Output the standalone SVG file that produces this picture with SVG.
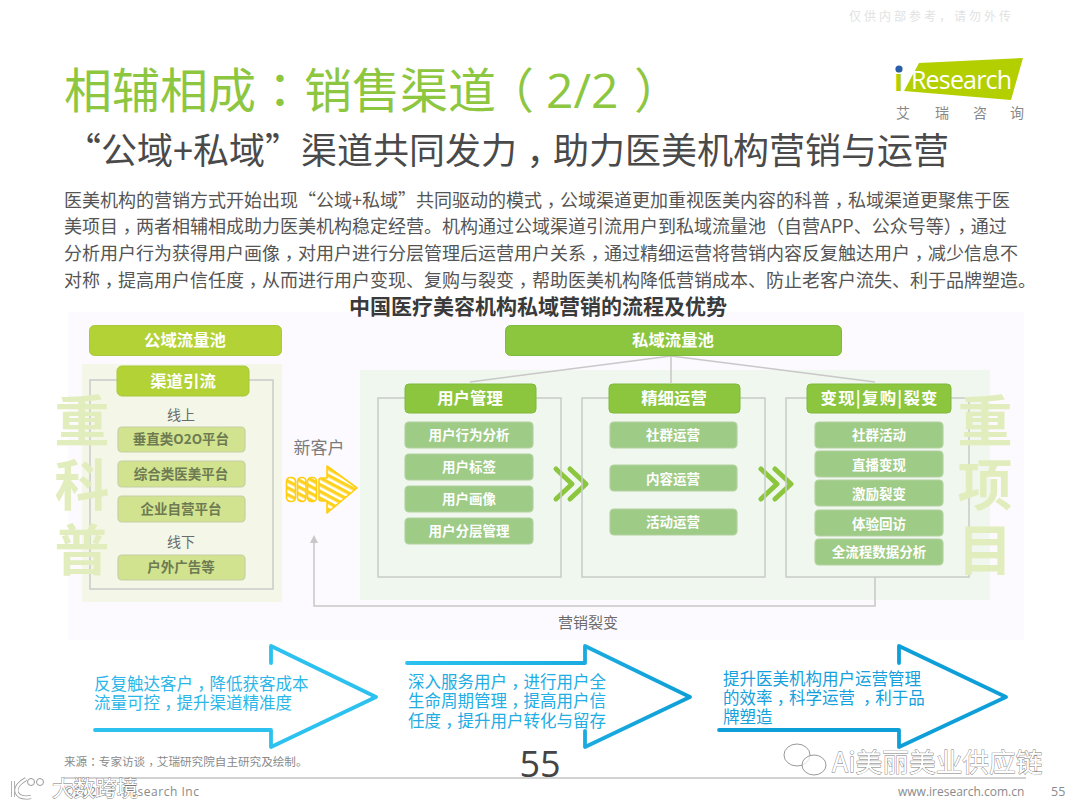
<svg xmlns="http://www.w3.org/2000/svg" width="1080" height="809" viewBox="0 0 1080 809">
<style>
text{font-family:"Noto Sans CJK SC","Noto Sans",sans-serif}
.lat{font-family:"Open Sans","Noto Sans CJK SC",sans-serif}
.c{font-family:"Noto Sans CJK TC",sans-serif;baseline-shift:-.3em}
.c0{font-family:"Noto Sans CJK TC",sans-serif}
.para{font-size:18px;fill:#555}
.hdl{fill:#b2d235;stroke:#a9c83c;stroke-width:1}
.hdr{fill:#8cc63f;stroke:#7fb93d;stroke-width:1}
.hd{fill:#fff;font-weight:700;text-anchor:middle;font-size:16.4px}
.il{fill:#d1e38f;stroke:#c4cfa3;stroke-width:1.2}
.it{fill:#6d7a52;font-weight:700;text-anchor:middle;font-size:13.5px}
.ir{fill:#9ecb86;stroke:#b3d2a1;stroke-width:1.2}
.irt{fill:#fff;font-weight:700;text-anchor:middle;font-size:13.5px}
.box{fill:none;stroke:#c8ccc8;stroke-width:1.5}
.big{fill:#e2edbd;font-size:55px;font-weight:700;text-anchor:middle}
.lb{fill:#6b6b6b;font-size:14px;text-anchor:middle}
.btxt{font-size:16.5px}
.con{fill:none;stroke:#c8c8c8;stroke-width:1.5}
.arr{fill:none;stroke-width:3.8;stroke-linejoin:round;stroke-linecap:round}
.chev{fill:none;stroke:#8cc63f;stroke-width:5;stroke-linejoin:round;stroke-linecap:round}
.wm{fill:#fff;stroke:#777;stroke-width:.8;paint-order:stroke}
</style>
<defs>
<pattern id="st" width="6" height="6" patternUnits="userSpaceOnUse" patternTransform="rotate(28)">
<rect width="6" height="6" fill="#ffd21f"/><rect y="3.4" width="6" height="2.6" fill="#fff"/>
</pattern>
<linearGradient id="g2" gradientUnits="userSpaceOnUse" x1="407" y1="0" x2="690" y2="0"><stop offset="0" stop-color="#2cc1ee"/><stop offset="1" stop-color="#0f9fd8"/></linearGradient>
</defs>
<rect width="1080" height="809" fill="#fff"/>

<g id="header">
<text x="849" y="21" font-size="12" letter-spacing="3" fill="#e2e2e2">仅供内部参考&#xFF0C;请勿外传</text>
<text x="64" y="108" font-size="48" fill="#8dc63f">相辅相成<tspan class="c0">&#xFF1A;</tspan>销售渠道<tspan x="486">&#xFF08;</tspan><tspan class="lat" x="546">2/2</tspan><tspan x="634">&#xFF09;</tspan></text>
<text x="65" y="164" font-size="36" fill="#4a4a4a">“公域+私域”渠道共同发力<tspan class="c">&#xFF0C;</tspan>助力医美机构营销与运营</text>
</g>

<g id="logo">
<polygon points="919,63 1023,58 1011,100 904,91" fill="#b3cf00"/>
<text class="lat" x="894" y="91" font-size="30" font-weight="700" fill="#b3cf00">i</text>
<circle cx="899" cy="69" r="3.6" fill="#2a5ea8"/>
<text class="lat" x="911" y="89" font-size="25" fill="#fff" textLength="101">Research</text>
<g font-size="14" fill="#888" text-anchor="middle">
<text x="903" y="118">艾</text><text x="942" y="118">瑞</text><text x="980" y="118">咨</text><text x="1017" y="118">询</text>
</g>
</g>

<g id="intro">
<text class="para" x="64" y="207">医美机构的营销方式开始出现“公域+私域”共同驱动的模式<tspan class="c">&#xFF0C;</tspan>公域渠道更加重视医美内容的科普<tspan class="c">&#xFF0C;</tspan>私域渠道更聚焦于医</text>
<text class="para" x="64" y="233">美项目<tspan class="c">&#xFF0C;</tspan>两者相辅相成助力医美机构稳定经营。机构通过公域渠道引流用户到私域流量池&#xFF08;自营APP、公众号等&#xFF09;<tspan class="c">&#xFF0C;</tspan>通过</text>
<text class="para" x="64" y="260">分析用户行为获得用户画像<tspan class="c">&#xFF0C;</tspan>对用户进行分层管理后运营用户关系<tspan class="c">&#xFF0C;</tspan>通过精细运营将营销内容反复触达用户<tspan class="c">&#xFF0C;</tspan>减少信息不</text>
<text class="para" x="64" y="287">对称<tspan class="c">&#xFF0C;</tspan>提高用户信任度<tspan class="c">&#xFF0C;</tspan>从而进行用户变现、复购与裂变<tspan class="c">&#xFF0C;</tspan>帮助医美机构降低营销成本、防止老客户流失、利于品牌塑造。</text>
</g>

<rect x="68" y="312" width="956" height="328" fill="#fdfaff"/>
<text x="538" y="314" font-size="21" font-weight="700" fill="#3a3a3a" text-anchor="middle">中国医疗美容机构私域营销的流程及优势</text>

<rect x="82" y="364" width="200" height="238" fill="#f4f7e8"/>
<rect x="360" y="370" width="630" height="230" fill="#f0f7ef"/>

<g id="connectors">
<path class="con" d="M671 356L470 382M671 356V383M671 356L875 382"/>
<path class="con" d="M875 577V606H314V541"/>
<polygon points="314,535 310,543 318,543" fill="#c8c8c8"/>
<path class="chev" d="M556 469L572 484L556 499M570 469L586 484L570 499"/>
<path class="chev" d="M761 469L777 484L761 499M775 469L791 484L775 499"/>
</g>

<g id="box-left"><rect class="box" x="90" y="380" width="183" height="209"/></g>
<g id="box-user"><rect class="box" x="378" y="398" width="183" height="179"/></g>
<g id="box-ops"><rect class="box" x="582" y="398" width="183" height="179"/></g>
<g id="box-conv"><rect class="box" x="786" y="398" width="183" height="179"/></g>

<g id="public-pool"><rect class="hdl" x="89.500" y="325.500" width="192" height="30" rx="5"/><text class="hd" x="185" y="346">公域流量池</text></g>
<g id="channel"><rect class="hdl" x="117" y="366" width="132" height="30" rx="5"/><text class="hd" x="183" y="387">渠道引流</text></g>
<text class="lb" x="181" y="420" font-size="15">线上</text>
<g id="l1"><rect class="il" x="118" y="427" width="127" height="25" rx="4"/><text class="it" x="181" y="444">垂直类O2O平台</text></g>
<g id="l2"><rect class="il" x="118" y="461" width="127" height="26" rx="4"/><text class="it" x="181" y="479">综合类医美平台</text></g>
<g id="l3"><rect class="il" x="118" y="496" width="127" height="26" rx="4"/><text class="it" x="181" y="514">企业自营平台</text></g>
<text class="lb" x="181" y="547">线下</text>
<g id="l4"><rect class="il" x="118" y="555" width="127" height="25" rx="4"/><text class="it" x="181" y="572">户外广告等</text></g>

<g id="zhongkepu"><text class="big" x="82" y="441">重</text><text class="big" x="82" y="505">科</text><text class="big" x="82" y="570">普</text></g>
<g id="zhongxiangmu"><text class="big" x="985" y="441">重</text><text class="big" x="985" y="505">项</text><text class="big" x="985" y="570">目</text></g>

<g id="private-pool"><rect class="hdr" x="505.500" y="325.500" width="336" height="30" rx="5"/><text class="hd" x="673" y="346">私域流量池</text></g>

<g id="user-head"><rect class="hdr" x="405" y="384" width="131" height="29" rx="4"/><text class="hd" x="470" y="404">用户管理</text></g>
<g id="u1"><rect class="ir" x="405" y="422" width="128" height="26" rx="4"/><text class="irt" x="469" y="440">用户行为分析</text></g>
<g id="u2"><rect class="ir" x="405" y="454" width="128" height="26" rx="4"/><text class="irt" x="469" y="472">用户标签</text></g>
<g id="u3"><rect class="ir" x="405" y="486" width="128" height="26" rx="4"/><text class="irt" x="469" y="504">用户画像</text></g>
<g id="u4"><rect class="ir" x="405" y="518" width="128" height="26" rx="4"/><text class="irt" x="469" y="536">用户分层管理</text></g>

<g id="ops-head"><rect class="hdr" x="609" y="384" width="131" height="29" rx="4"/><text class="hd" x="674" y="404">精细运营</text></g>
<g id="o1"><rect class="ir" x="610" y="422" width="127" height="26" rx="4"/><text class="irt" x="673" y="440">社群运营</text></g>
<g id="o2"><rect class="ir" x="610" y="465" width="127" height="26" rx="4"/><text class="irt" x="673" y="484">内容运营</text></g>
<g id="o3"><rect class="ir" x="610" y="509" width="127" height="26" rx="4"/><text class="irt" x="673" y="527">活动运营</text></g>

<g id="conv-head"><rect class="hdr" x="807" y="384" width="144" height="29" rx="4"/><text class="hd" x="879" y="404" textLength="117">变现|复购|裂变</text></g>
<g id="c1"><rect class="ir" x="815" y="422" width="128" height="26" rx="4"/><text class="irt" x="879" y="440">社群活动</text></g>
<g id="c2"><rect class="ir" x="815" y="451" width="128" height="26" rx="4"/><text class="irt" x="879" y="470">直播变现</text></g>
<g id="c3"><rect class="ir" x="815" y="480" width="128" height="26" rx="4"/><text class="irt" x="879" y="499">激励裂变</text></g>
<g id="c4"><rect class="ir" x="815" y="510" width="128" height="26" rx="4"/><text class="irt" x="879" y="529">体验回访</text></g>
<g id="c5"><rect class="ir" x="815" y="539" width="128" height="26" rx="4"/><text class="irt" x="879" y="557">全流程数据分析</text></g>

<text x="319" y="454" font-size="17" fill="#7a7a7a" text-anchor="middle">新客户</text>
<g id="new-arrow" fill="url(#st)" stroke="#ffce10" stroke-width="1.6" stroke-linejoin="round">
<rect x="286.500" y="477.500" width="9" height="24" rx="4"/>
<rect x="297.500" y="477.500" width="8.500" height="24" rx="4"/>
<rect x="307.500" y="477.500" width="9" height="24" rx="4"/>
<path d="M319 480Q319 478 321 478H327V466L357 488L327 513V501H321Q319 501 319 499Z"/>
</g>

<text x="588" y="628" font-size="15" fill="#6b6b6b" text-anchor="middle">营销裂变</text>

<g id="adv1">
<path class="arr" stroke="#2cc1ee" d="M271 663V646L376 697L271 747V730H95"/>
<text class="btxt" fill="#2cb6e8"><tspan x="94" y="690">反复触达客户<tspan class="c">&#xFF0C;</tspan>降低获客成本</tspan><tspan x="94" y="709">流量可控<tspan class="c">&#xFF0C;</tspan>提升渠道精准度</tspan></text>
</g>
<g id="adv2">
<path class="arr" stroke="url(#g2)" d="M407 663H585V646L690 697L585 747V731"/>
<text class="btxt" fill="#22ade3"><tspan x="408" y="688">深入服务用户<tspan class="c">&#xFF0C;</tspan>进行用户全</tspan><tspan x="408" y="707">生命周期管理<tspan class="c">&#xFF0C;</tspan>提高用户信</tspan><tspan x="408" y="727">任度<tspan class="c">&#xFF0C;</tspan>提升用户转化与留存</tspan></text>
</g>
<g id="adv3">
<path class="arr" stroke="#0f9fd8" d="M719 730H899V747L1006 697L899 646V663"/>
<text class="btxt" fill="#159fdc"><tspan x="723" y="685">提升医美机构用户运营管理</tspan><tspan x="723" y="704">的效率<tspan class="c">&#xFF0C;</tspan>科学运营 <tspan class="c">&#xFF0C;</tspan>利于品</tspan><tspan x="723" y="723">牌塑造</tspan></text>
</g>

<g id="footer">
<text x="64" y="766" font-size="11.600" fill="#8a8a8a">来源<tspan class="c0">&#xFF1A;</tspan>专家访谈<tspan class="c">&#xFF0C;</tspan>艾瑞研究院自主研究及绘制。</text>
<line x1="64" y1="778" x2="1026" y2="778" stroke="#a5a5a5" stroke-width="1.2"/>
<text class="lat" x="540" y="777" font-size="36" fill="#444" text-anchor="middle">55</text>
<text class="lat" x="64" y="796" font-size="12" fill="#8a8a8a" textLength="135">©2021.1 iResearch Inc</text>
<text class="lat" x="898" y="796" font-size="12" fill="#8a8a8a">www.iresearch.com.cn</text>
<text class="lat" x="1051" y="796" font-size="12.500" fill="#8a8a8a">55</text>
</g>

<g id="watermark-left">
<path d="M13 781V797M26 779Q14 786 17 793Q20 799 31 797" fill="none" stroke="#999" stroke-width="4"/>
<path d="M13 781V797M26 779Q14 786 17 793Q20 799 31 797" fill="none" stroke="#fff" stroke-width="2.500"/>
<circle cx="31" cy="782" r="3.500" fill="#fff" stroke="#999"/><circle cx="40" cy="782" r="3.500" fill="#fff" stroke="#999"/>
<text class="wm" x="52" y="796" font-size="21.500">大数跨境</text>
</g>
<g id="watermark-right">
<ellipse cx="797" cy="755" rx="13" ry="11" fill="#fff" fill-opacity=".5" stroke="#999"/>
<ellipse cx="814" cy="765" rx="12" ry="10" fill="#fff" fill-opacity=".7" stroke="#999"/>
<text class="wm" x="832" y="772" font-size="26.700">Ai美丽美业供应链</text>
</g>
</svg>
